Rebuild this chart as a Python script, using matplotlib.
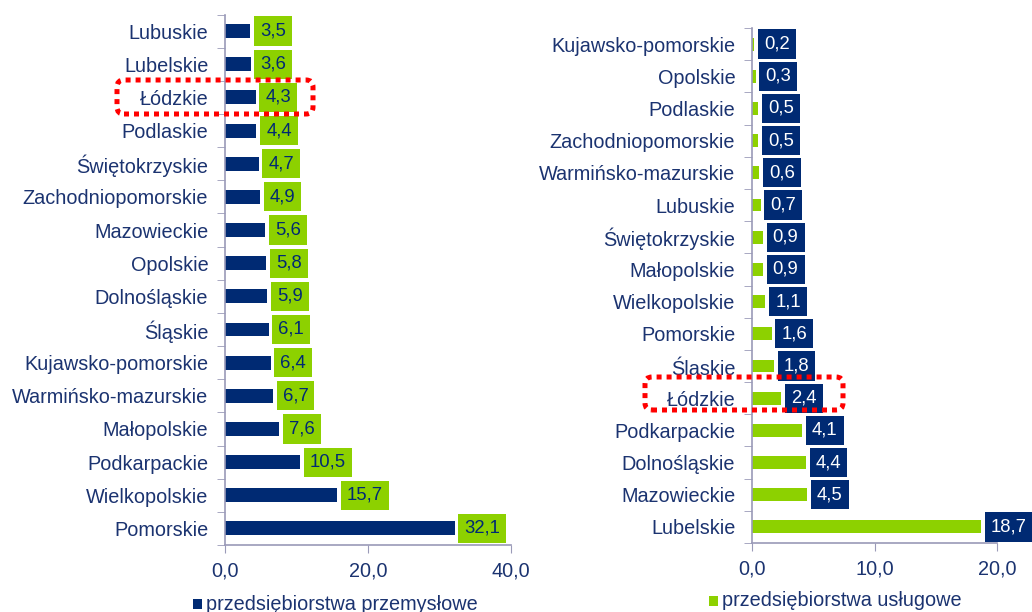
import matplotlib
matplotlib.use("Agg")
import matplotlib.pyplot as plt
from matplotlib.patches import FancyBboxPatch, Rectangle
from matplotlib.transforms import IdentityTransform
import numpy as np

plt.rcParams['font.family'] = ['Liberation Sans', 'DejaVu Sans']

# ---- data ----
left_regions = ["Lubuskie", "Lubelskie", "Łódzkie", "Podlaskie", "Świętokrzyskie",
                "Zachodniopomorskie", "Mazowieckie", "Opolskie", "Dolnośląskie", "Śląskie",
                "Kujawsko-pomorskie", "Warmińsko-mazurskie", "Małopolskie", "Podkarpackie",
                "Wielkopolskie", "Pomorskie"]
left_values = [3.5, 3.6, 4.3, 4.4, 4.7, 4.9, 5.6, 5.8, 5.9, 6.1, 6.4, 6.7, 7.6, 10.5, 15.7, 32.1]

right_regions = ["Kujawsko-pomorskie", "Opolskie", "Podlaskie", "Zachodniopomorskie",
                 "Warmińsko-mazurskie", "Lubuskie", "Świętokrzyskie", "Małopolskie",
                 "Wielkopolskie", "Pomorskie", "Śląskie", "Łódzkie", "Podkarpackie",
                 "Dolnośląskie", "Mazowieckie", "Lubelskie"]
right_values = [0.2, 0.3, 0.5, 0.5, 0.6, 0.7, 0.9, 0.9, 1.1, 1.6, 1.8, 2.4, 4.1, 4.4, 4.5, 18.7]

left_ticks = [0, 20, 40]
right_ticks = [0, 10, 20]
left_legend = "przedsiębiorstwa przemysłowe"
right_legend = "przedsiębiorstwa usługowe"

NAVY = "#002A73"
GREEN = "#8DD100"
TXT = "#1B3370"
SPINE = "#9A9AB8"

W, H = 1032, 612
fig = plt.figure(figsize=(W / 100, H / 100), dpi=100)


def fmt(v):
    return f"{v:.1f}".replace(".", ",")


def setup(ax, regions, values, ticks, xmax, barcolor, boxcolor, boxtext, barh):
    n = len(regions)
    y = np.arange(n)
    ax.barh(y, values, height=barh, color=barcolor, zorder=2)
    ax.set_ylim(n - 0.5, -0.5)
    ax.set_xlim(0, xmax)
    ax.set_yticks(y)
    ax.set_yticklabels(regions, fontsize=14.3, color=TXT)
    ax.set_yticks(np.arange(n + 1) - 0.5, minor=True)
    ax.tick_params(axis='y', which='major', length=0, pad=12)
    ax.tick_params(axis='y', which='minor', length=6, color=SPINE, direction='out')
    ax.set_xticks(ticks)
    ax.set_xticklabels([fmt(t) for t in ticks], fontsize=14.3, color=TXT)
    ax.tick_params(axis='x', length=6, color=SPINE, direction='out', pad=6)
    for s in ['top', 'right']:
        ax.spines[s].set_visible(False)
    for s in ['left', 'bottom']:
        ax.spines[s].set_color(SPINE)
        ax.spines[s].set_linewidth(1.2)
    for yi, v in zip(y, values):
        ax.annotate(fmt(v), xy=(v, yi), xytext=(7, 0), textcoords='offset points',
                    ha='left', va='center', fontsize=13.3, color=boxtext,
                    bbox=dict(boxstyle='square,pad=0.33', fc=boxcolor, ec='none'),
                    zorder=3, clip_on=False)


ax1 = fig.add_axes([225 / W, 1 - 545 / H, (511 - 225) / W, (545 - 14.5) / H])
setup(ax1, left_regions, left_values, left_ticks, 40, NAVY, GREEN, NAVY, 0.42)

ax2 = fig.add_axes([752 / W, 1 - 543 / H, (997 - 752) / W, (543 - 28) / H])
setup(ax2, right_regions, right_values, right_ticks, 20, GREEN, NAVY, "white", 0.40)

# dotted highlight boxes (pixel coordinates)
tr = IdentityTransform()
for (x0, y0, x1, y1) in [(117, 80, 313, 114), (645, 377, 843, 410)]:
    p = FancyBboxPatch((x0, H - y1), x1 - x0, y1 - y0,
                       boxstyle="round,pad=0,rounding_size=7",
                       transform=tr, fill=False, ec="#FF0000", lw=3.6,
                       linestyle=(0, (1, 1)), figure=fig)
    fig.patches.append(p)

# legends
for (sx, ty, col, txt) in [(193, 604, NAVY, left_legend), (709, 601, GREEN, right_legend)]:
    fig.patches.append(Rectangle((sx, H - ty - 5), 9, 10, transform=tr, fc=col, ec='none', figure=fig))
    fig.text((sx + 13) / W, 1 - ty / H, txt, fontsize=14.3, color=TXT, ha='left', va='center')

fig.savefig("out.png", dpi=100)
